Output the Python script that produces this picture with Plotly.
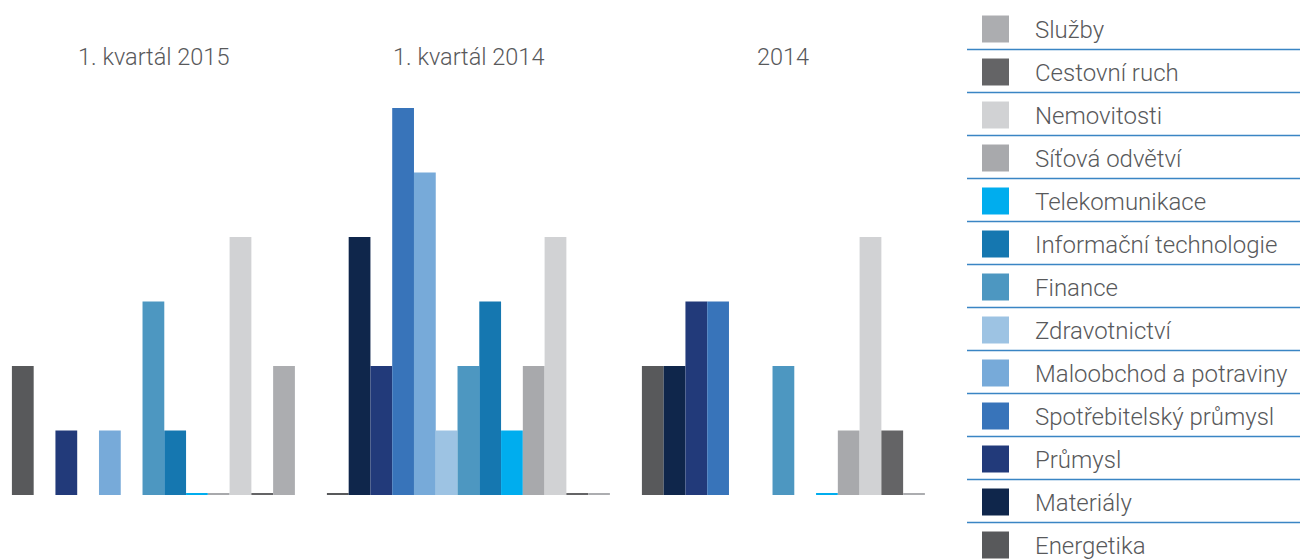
import plotly.graph_objects as go

# ── Data ──────────────────────────────────────────────────────────────────
PERIODS = ["1. kvartál 2015", "1. kvartál 2014", "2014"]

SECTORS = [
    "Energetika",
    "Materiály",
    "Průmysl",
    "Spotřebitelský průmysl",
    "Maloobchod a potraviny",
    "Zdravotnictví",
    "Finance",
    "Informační technologie",
    "Telekomunikace",
    "Síťová odvětví",
    "Nemovitosti",
    "Cestovní ruch",
    "Služby",
]

# values per sector for (Q1 2015, Q1 2014, 2014); None = no bar, 0.03 = hairline
ENERGETIKA = [2, 0.03, 2]
MATERIALY = [None, 4, 2]
PRUMYSL = [1, 2, 3]
SPOTREBITELSKY = [None, 6, 3]
MALOOBCHOD = [1, 5, None]
ZDRAVOTNICTVI = [None, 1, None]
FINANCE = [3, 2, 2]
IT = [1, 3, None]
TELEKOMUNIKACE = [0.03, 1, 0.03]
SITOVA = [0.03, 2, 1]
NEMOVITOSTI = [4, 4, 4]
CESTOVNI_RUCH = [0.03, 0.03, 1]
SLUZBY = [2, 0.03, 0.03]

VALUES = [
    ENERGETIKA, MATERIALY, PRUMYSL, SPOTREBITELSKY, MALOOBCHOD, ZDRAVOTNICTVI,
    FINANCE, IT, TELEKOMUNIKACE, SITOVA, NEMOVITOSTI, CESTOVNI_RUCH, SLUZBY,
]

COLORS = [
    "#58595b",  # Energetika
    "#0f264b",  # Materiály
    "#223a7a",  # Průmysl
    "#3874ba",  # Spotřebitelský průmysl
    "#77aad9",  # Maloobchod a potraviny
    "#9dc3e3",  # Zdravotnictví
    "#4d97c1",  # Finance
    "#1577b0",  # Informační technologie
    "#00adee",  # Telekomunikace
    "#a8a9ac",  # Síťová odvětví
    "#d1d2d4",  # Nemovitosti
    "#646466",  # Cestovní ruch
    "#acadb0",  # Služby
]

# ── Layout constants ──────────────────────────────────────────────────────
W, H = 1300, 559
TEXT_COLOR = "#58595b"
FONT = "Roboto"
SEP_COLOR = "#3a85c4"


def py(p):
    """Pixel row (from top) to paper y (margins are zero)."""
    return 1 - p / H


def px(p):
    return p / W


fig = go.Figure()

for name, vals, color in zip(SECTORS, VALUES, COLORS):
    fig.add_trace(go.Bar(
        x=list(range(len(PERIODS))),
        y=vals,
        name=name,
        marker=dict(color=color, line=dict(width=0)),
        showlegend=False,
    ))

# group titles
annotations = []
for i, title in enumerate(PERIODS):
    annotations.append(dict(
        x=i, xref="x", y=py(57), yref="paper",
        text=title, showarrow=False,
        font=dict(family=FONT, size=23.5, color=TEXT_COLOR, weight=300),
        xanchor="center", yanchor="middle",
    ))

# custom legend: rows from top (Služby) down to Energetika
shapes = []
row0, row_h = 29, 43.0
for i, (name, color) in enumerate(zip(SECTORS[::-1], COLORS[::-1])):
    cy = row0 + row_h * i
    shapes.append(dict(
        type="rect", xref="paper", yref="paper",
        x0=px(982), x1=px(1009), y0=py(cy - 13.5), y1=py(cy + 13.5),
        fillcolor=color, line=dict(width=0),
    ))
    annotations.append(dict(
        x=px(1033), xref="paper", y=py(cy + 1), yref="paper",
        text=name, showarrow=False,
        font=dict(family=FONT, size=24, color=TEXT_COLOR, weight=300),
        xanchor="left", yanchor="middle",
    ))
    if i < len(SECTORS) - 1:
        ly = cy + 20.5
        shapes.append(dict(
            type="line", xref="paper", yref="paper",
            x0=px(967), x1=1, y0=py(ly), y1=py(ly),
            line=dict(color=SEP_COLOR, width=1.5),
        ))

fig.update_layout(
    width=W,
    height=H,
    margin=dict(l=0, r=0, t=0, b=0),
    paper_bgcolor="white",
    plot_bgcolor="white",
    barmode="group",
    bargap=0.1016,
    bargroupgap=0,
    hovermode=False,
    xaxis=dict(
        domain=[0, 945 / W],
        range=[-0.487, 2.513],
        visible=False,
        fixedrange=True,
    ),
    yaxis=dict(
        domain=[64 / H, 464 / H],
        range=[0, 6.2],
        visible=False,
        fixedrange=True,
    ),
    shapes=shapes,
    annotations=annotations,
)

fig.write_html(
    "out.html",
    config={"displayModeBar": False},
    post_script="document.body.style.margin='0';document.body.style.overflow='hidden';",
)
